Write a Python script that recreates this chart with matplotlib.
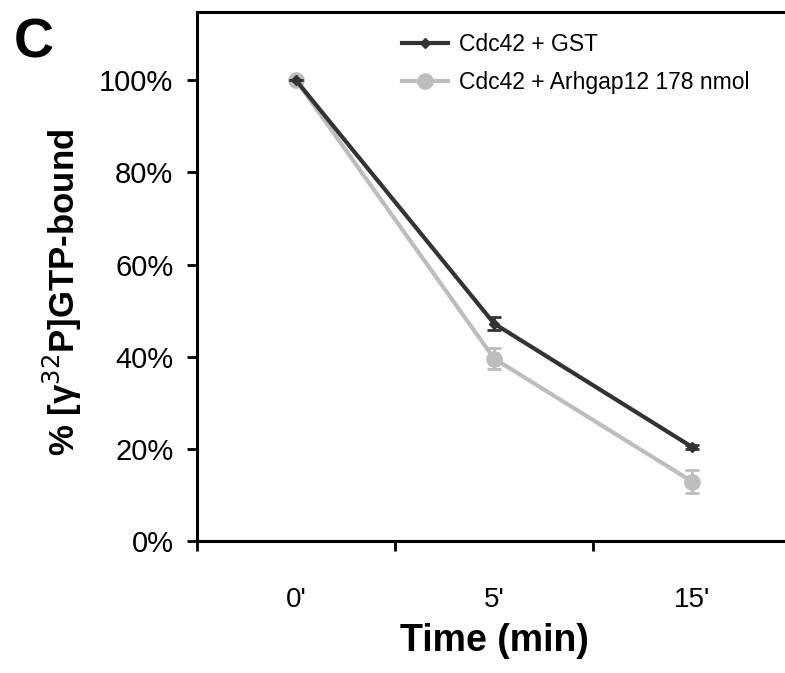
import numpy as np
import matplotlib
matplotlib.use("Agg")
import matplotlib.pyplot as plt
from matplotlib.lines import Line2D

plt.rcParams["font.family"] = ["Liberation Sans", "DejaVu Sans"]

time_labels = ["0'", "5'", "15'"]
gst_values = [100, 47.2, 20.4]
gst_err = [0, 1.4, 0.5]
gap_values = [100, 39.6, 12.9]
gap_err = [0, 2.3, 2.5]

fig = plt.figure(figsize=(7.85, 6.73), dpi=100)
ax = fig.add_axes([0.251, 0.196, 0.757, 0.786])

x = np.arange(len(time_labels))
gst_color = "#333333"
gap_color = "#bdbdbd"

ax.errorbar(x, gap_values, yerr=gap_err, color=gap_color, lw=3, marker="o",
            ms=11, capsize=5, capthick=2, elinewidth=2, zorder=2)
ax.errorbar(x, gst_values, yerr=gst_err, color=gst_color, lw=3, marker="D",
            ms=5, capsize=5, capthick=2, elinewidth=2, zorder=3)

ax.set_xlim(-0.5, 2.5)
ax.set_ylim(0, 114.8)
ax.set_yticks([0, 20, 40, 60, 80, 100])
ax.set_yticklabels([f"{v}%" for v in [0, 20, 40, 60, 80, 100]], fontsize=21)

# category axis: ticks between categories, labels at centres
ax.set_xticks([-0.5, 0.5, 1.5])
ax.set_xticklabels([])
ax.set_xticks(x, minor=True)
ax.set_xticklabels(time_labels, minor=True, fontsize=20)
ax.tick_params(axis="x", which="minor", length=0, pad=33)
ax.tick_params(axis="x", which="major", length=7, width=2, direction="out")
ax.tick_params(axis="y", length=7, width=2, direction="out", pad=10)

for side in ["left", "bottom", "top"]:
    ax.spines[side].set_linewidth(2.2)
ax.spines["right"].set_visible(False)

ax.set_xlabel("Time (min)", fontsize=27, fontweight="bold")
ax.xaxis.set_label_coords(0.5, -0.155)
ax.set_ylabel("% [γ$^{32}$P]GTP-bound", fontsize=25, fontweight="bold")
ax.yaxis.set_label_coords(-0.19, 0.47)

handles = [
    Line2D([], [], color=gst_color, lw=3, marker="D", ms=5),
    Line2D([], [], color=gap_color, lw=3, marker="o", ms=11),
]
labels = ["Cdc42 + GST", "Cdc42 + Arhgap12 178 nmol"]
ax.legend(handles, labels, loc="upper left", bbox_to_anchor=(0.31, 1.0),
          frameon=False, fontsize=16.5, handlelength=2.0, handletextpad=0.5,
          labelspacing=0.65)

fig.text(0.018, 0.915, "C", fontsize=40, fontweight="bold")

fig.savefig("out.png", dpi=100)
